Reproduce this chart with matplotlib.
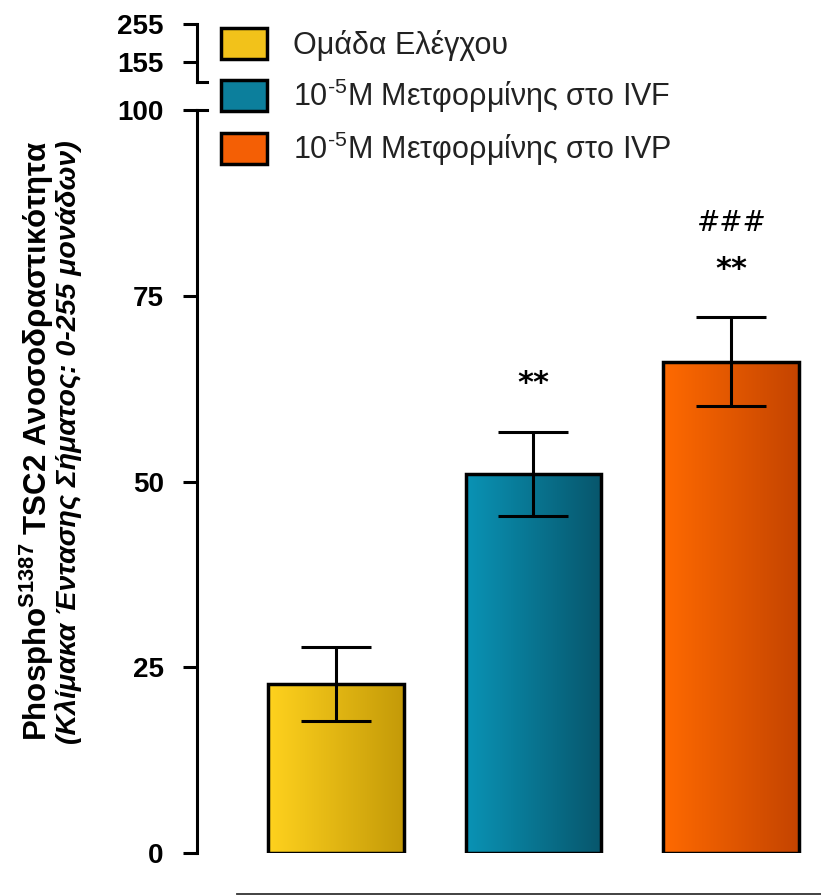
import matplotlib.pyplot as plt
import matplotlib.patches as mpatches
from matplotlib.colors import LinearSegmentedColormap
import numpy as np

plt.rcParams['font.family'] = ['Liberation Sans Narrow', 'Liberation Sans', 'DejaVu Sans']

groups = ['Ομάδα Ελέγχου',
          '10$^{\\mathregular{\u2010 5}}$M Μετφορμίνης στο IVF',
          '10$^{\\mathregular{\u2010 5}}$M Μετφορμίνης στο IVP']
means = [22.7, 51.0, 66.1]
errors = [5.0, 5.7, 6.0]
marks = ['', '**', '**']
marks2 = ['', '', '###']
base_colors = ['#f2c21a', '#0c7f9c', '#f45f05']
grad_colors = [('#ffd21e', '#c49a08'), ('#0a93b5', '#07566c'), ('#ff6a00', '#c44400')]

fig = plt.figure(figsize=(8.21, 8.96), dpi=100)
ax = fig.add_axes([197 / 821, 1 - 853 / 896, 1 - 197 / 821, (853 - 110) / 896])

x = np.arange(len(means))
bars = ax.bar(x, means, width=0.687, facecolor='none', edgecolor='black',
              linewidth=2.5, zorder=3)
for b, (c1, c2) in zip(bars, grad_colors):
    cmap = LinearSegmentedColormap.from_list('g', [c1, c2])
    grad = np.linspace(0, 1, 256).reshape(1, -1)
    im = ax.imshow(grad, cmap=cmap, aspect='auto', zorder=2,
                   extent=(b.get_x(), b.get_x() + b.get_width(), 0, b.get_height()))
    im.set_clip_path(b)

ax.errorbar(x, means, yerr=errors, fmt='none', ecolor='black', elinewidth=2.2,
            capsize=25, capthick=2.2, zorder=4)

for xi, m, e, s1, s2 in zip(x, means, errors, marks, marks2):
    if s1:
        ax.text(xi, m + e + 6.5, s1, ha='center', va='center', fontsize=22,
                fontweight='bold', family='DejaVu Sans')
    if s2:
        ax.text(xi, m + e + 12.7, s2, ha='center', va='center', fontsize=20,
                style='italic', family='DejaVu Sans')

ax.set_xlim(-0.702, 2.455)
ax.set_ylim(0, 100)
ax.set_yticks([0, 25, 50, 75, 100])
ax.tick_params(axis='y', direction='out', length=10, width=2.2, labelsize=20, pad=14)
for lab in ax.get_yticklabels():
    lab.set_fontweight('bold')
ax.set_xticks([])
ax.spines['left'].set_linewidth(2.2)
ax.spines['left'].set_bounds(0, 100)
ax.spines['right'].set_visible(False)
ax.spines['top'].set_visible(False)
ax.spines['bottom'].set_position(('outward', 29.5))
ax.spines['bottom'].set_bounds(-0.5, 2.455)
ax.spines['bottom'].set_color('#333333')
ax.spines['bottom'].set_linewidth(1.3)
ax.axhline(100, xmin=0, xmax=10 / 624, color='black', lw=2.2, clip_on=False)

# upper part of broken axis
axt = fig.add_axes([197 / 821, 1 - 82 / 896, 41 / 821, (82 - 24) / 896])
axt.set_ylim(102.4, 255)
axt.set_yticks([155, 255])
axt.tick_params(axis='y', direction='out', length=10, width=2.2, labelsize=20, pad=14)
for lab in axt.get_yticklabels():
    lab.set_fontweight('bold')
axt.set_xticks([])
axt.patch.set_visible(False)
for s in ['right', 'top', 'bottom']:
    axt.spines[s].set_visible(False)
axt.spines['left'].set_linewidth(2.2)
axt.axhline(102.4, xmin=0, xmax=0.25, color='black', lw=2.2, clip_on=False)

# y label, two lines
fig.text(37 / 821, 1 - 441 / 896, r'Phospho$^{\mathregular{S1387}}$ TSC2 Ανοσοδραστικότητα',
         rotation=90, ha='center', va='center', fontsize=22.5, fontweight='bold')
fig.text(68 / 821, 1 - 442 / 896, '(Κλίμακα Έντασης Σήματος: 0-255 μονάδων)',
         rotation=90, ha='center', va='center', fontsize=20.5, fontweight='bold',
         style='italic')

handles = [mpatches.Patch(facecolor=c, edgecolor='black', linewidth=2.5) for c in base_colors]
leg = ax.legend(handles, groups, loc='upper left', frameon=False,
                bbox_to_anchor=(221 / 821, 1 - 28 / 896), bbox_transform=fig.transFigure,
                fontsize=22, handlelength=1.5, handleheight=1.2, handletextpad=0.85,
                labelspacing=0.5, borderpad=0, borderaxespad=0)
for t in leg.get_texts():
    t.set_color('#222222')

fig.savefig('out.png', dpi=100)
